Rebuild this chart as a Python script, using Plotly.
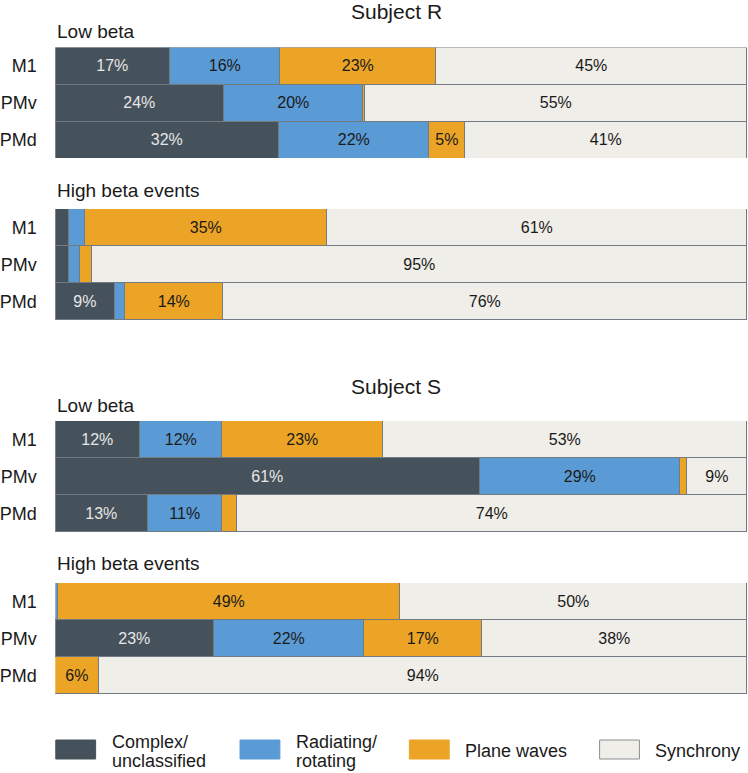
import plotly.graph_objects as go

# Brain regions (rows, top to bottom) and wave categories (stack order)
regions = ["M1", "PMv", "PMd"]
categories = ["Complex/unclassified", "Radiating/rotating", "Plane waves", "Synchrony"]
colors = ["#46525b", "#5b9bd5", "#eba425", "#efeee8"]
text_colors = ["#e6e6e6", "#1a1a1a", "#1a1a1a", "#1a1a1a"]

# Subject R - low beta (% of time, per region M1, PMv, PMd)
r_low_complex = [16.6, 24.4, 32.4]
r_low_radiating = [15.9, 20.1, 21.6]
r_low_plane = [22.6, 0.3, 5.2]
r_low_sync = [44.9, 55.2, 40.8]

# Subject R - high beta events
r_high_complex = [2.0, 2.0, 8.6]
r_high_radiating = [2.3, 1.6, 1.5]
r_high_plane = [35.0, 1.8, 14.2]
r_high_sync = [60.7, 94.6, 75.7]

# Subject S - low beta
s_low_complex = [12.3, 61.4, 13.4]
s_low_radiating = [11.8, 28.9, 10.7]
s_low_plane = [23.3, 1.0, 2.2]
s_low_sync = [52.6, 8.7, 73.7]

# Subject S - high beta events
s_high_complex = [0.0, 23.0, 0.0]
s_high_radiating = [0.5, 21.7, 0.0]
s_high_plane = [49.4, 17.0, 6.4]
s_high_sync = [50.1, 38.3, 93.6]

panels = [
    ("", [r_low_complex, r_low_radiating, r_low_plane, r_low_sync]),
    ("2", [r_high_complex, r_high_radiating, r_high_plane, r_high_sync]),
    ("3", [s_low_complex, s_low_radiating, s_low_plane, s_low_sync]),
    ("4", [s_high_complex, s_high_radiating, s_high_plane, s_high_sync]),
]

H = 773.0
W = 748.0
FONT = "Liberation Sans, Arial, Helvetica, sans-serif"

def py(px):
    return 1 - px / H

def pxx(px):
    return px / W

# vertical extents of the four bar blocks, in pixels from the top
domains = [(47.5, 158), (209, 320), (421, 532), (583, 694)]

fig = go.Figure()

for (sfx, series) in panels:
    for i, vals in enumerate(series):
        labels = [f"{v:.0f}%" if v >= 4 else "" for v in vals]
        fig.add_trace(go.Bar(
            x=vals,
            y=regions,
            orientation="h",
            name=categories[i],
            marker=dict(color=colors[i], line=dict(color="#737b82", width=1)),
            text=labels,
            textposition="inside",
            insidetextanchor="middle",
            textangle=0,
            textfont=dict(color=text_colors[i], size=16, family=FONT),
            xaxis="x" + sfx,
            yaxis="y" + sfx,
            showlegend=False,
            hoverinfo="skip",
        ))

layout = dict(
    width=748,
    height=773,
    margin=dict(l=0, r=0, t=0, b=0),
    barmode="stack",
    bargap=0,
    plot_bgcolor="white",
    paper_bgcolor="white",
    font=dict(family=FONT, color="#1a1a1a"),
    uniformtext=dict(mode="show", minsize=16),
)

for k, (sfx, _) in enumerate(panels):
    top, bot = domains[k]
    layout["xaxis" + sfx] = dict(
        domain=[pxx(52.5), 0.9993], range=[0, 100], visible=False,
        anchor="y" + sfx, fixedrange=True,
    )
    layout["yaxis" + sfx] = dict(
        domain=[py(bot), py(top)], autorange="reversed",
        anchor="x" + sfx, showgrid=False, zeroline=False, showline=False,
        ticks="outside", ticklen=14, tickcolor="rgba(0,0,0,0)",
        tickfont=dict(size=18, color="#1a1a1a"), fixedrange=True,
    )

fig.update_layout(**layout)

# Titles
titles = [
    ("Subject R", 395, 12, 21, "center"),
    ("Low beta", 52, 32, 19, "left"),
    ("High beta events", 52, 191, 19, "left"),
    ("Subject S", 395, 386, 21, "center"),
    ("Low beta", 52, 405, 19, "left"),
    ("High beta events", 52, 563, 19, "left"),
]
for txt, x, y, size, anchor in titles:
    fig.add_annotation(
        text=txt, x=pxx(x), y=py(y), xref="paper", yref="paper",
        xanchor=anchor, yanchor="middle", showarrow=False,
        font=dict(size=size, color="#1a1a1a"),
    )

# Legend (custom boxes to match the original look)
legend_x = [53, 238, 408, 599]
for i, x0 in enumerate(legend_x):
    fig.add_shape(
        type="rect", xref="paper", yref="paper",
        x0=pxx(x0), x1=pxx(x0 + 40), y0=py(759), y1=py(740),
        fillcolor=colors[i],
        line=dict(color="#8a8f93" if i == 3 else colors[i], width=1),
    )
    name = categories[i]
    if "/" in name:
        first, second = name.split("/")
        lines = [(first + "/", 742), (second, 761)]
    else:
        lines = [(name, 751)]
    for txt, yc in lines:
        fig.add_annotation(
            text=txt, x=pxx(x0 + 55), y=py(yc),
            xref="paper", yref="paper", xanchor="left", yanchor="middle",
            align="left", showarrow=False, borderpad=0,
            font=dict(size=18, color="#1a1a1a"),
        )

# drop the browser's default body margin so the figure sits at the page corner
fig.write_html(
    "out.html",
    config={"displayModeBar": False},
    post_script="document.body.style.margin='0px';document.body.style.overflow='hidden';",
)
